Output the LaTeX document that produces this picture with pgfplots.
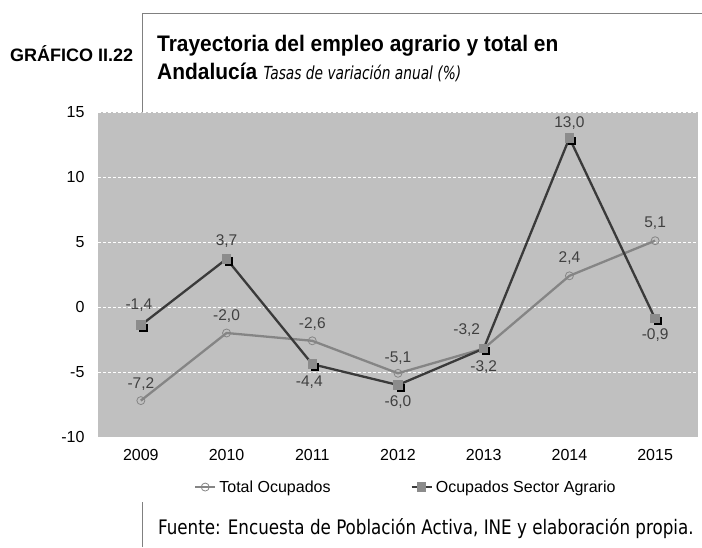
\documentclass[border=0pt]{standalone}
\usepackage{fontspec}
\setmainfont{Liberation Sans}
\newfontfamily\condfont{DejaVu Sans Condensed}
\usepackage{pgfplots}
\usepackage{pgfplotstable}
\pgfplotsset{compat=1.18}
\definecolor{bgGray}{HTML}{C0C0C0}
\definecolor{totGray}{HTML}{858585}
\definecolor{agrDark}{HTML}{3A3A3A}
\definecolor{labGray}{HTML}{404040}
\definecolor{frameGray}{HTML}{808080}
\definecolor{sqGray}{HTML}{8C8C8C}

\pgfplotstableread{
x y lab dy dx
0 -7.2 -7,2 17 0
1 -2.0 -2,0 17 0
2 -2.6 -2,6 17 0
3 -5.1 -5,1 15 0
4 -3.2 -3,2 19 -17
5 2.4 2,4 18 0
6 5.1 5,1 18 0
}\totaltable

\pgfplotstableread{
x y lab dy dx
0 -1.4 -1,4 20 -2
1 3.7 3,7 18 0
2 -4.4 -4,4 -18 -3
3 -6.0 -6,0 -17 0
4 -3.2 -3,2 -18 0
5 13.0 13,0 15 0
6 -0.9 -0,9 -16 0
}\agrtable

\pgfplotsset{
  mylabels/.style={
    point meta=explicit symbolic,
    nodes near coords,
    visualization depends on={\thisrow{dy} \as \labdy},
    visualization depends on={\thisrow{dx} \as \labdx},
    nodes near coords style={anchor=center, yshift=\labdy*1pt, xshift=\labdx*1pt,
      font=\fontsize{15.5}{17}\selectfont, text=labGray, inner sep=0pt},
  }
}

\begin{document}
\begin{tikzpicture}[x=1pt,y=1pt]
\useasboundingbox (0,0) rectangle (702,547);
% frame lines
\draw[frameGray, line width=0.9pt] (142,112) -- (142,534) -- (702,534);
\draw[frameGray, line width=0.9pt] (142,0) -- (142,45);
% titles
\node[anchor=base west, inner sep=0pt, font=\fontsize{18}{20}\selectfont\bfseries] at (10,485) {GRÁFICO II.22};
\node[anchor=base west, inner sep=0pt, font=\fontsize{22.5}{24}\selectfont\bfseries] at (157,495) {\scalebox{0.93}[1]{Trayectoria del empleo agrario y total en}};
\node[anchor=base west, inner sep=0pt, font=\fontsize{22.5}{24}\selectfont] at (157,467) {\scalebox{0.93}[1]{\textbf{Andalucía}} {\condfont\itshape\fontsize{18}{20}\selectfont\scalebox{0.85}[1]{Tasas de variación anual (\%)}}};
\node[anchor=base west, inner sep=0pt, font=\condfont\fontsize{20}{22}\selectfont] at (158,13) {\scalebox{0.93}[1]{Fuente: Encuesta de Población Activa, INE y elaboración propia.}};

\begin{axis}[
  at={(98pt,110pt)}, anchor=south west,
  width=600pt, height=325pt, scale only axis,
  xmin=-0.5, xmax=6.5, ymin=-10, ymax=15,
  xtick={0,1,2,3,4,5,6},
  xticklabels={2009,2010,2011,2012,2013,2014,2015},
  ytick={-10,-5,0,5,10,15},
  axis background/.style={fill=bgGray},
  axis line style={draw=none},
  major tick length=0pt,
  ymajorgrids,
  grid style={white, dash pattern=on 3pt off 2pt, line width=0.6pt},
  tick label style={font=\fontsize{16}{18}\selectfont},
  yticklabel style={xshift=-10pt},
  xticklabel style={yshift=-9pt},
  /pgf/number format/assume math mode=true,
  clip=false,
  legend columns=2,
  legend style={at={(0.513,-0.154)}, anchor=center, draw=none, fill=none,
    font=\fontsize{16}{18}\selectfont, inner sep=0pt,
    /tikz/every even column/.append style={column sep=78pt},
    /tikz/every odd column/.append style={column sep=1pt}},
  legend image code/.code={
    \draw[mark repeat=2,mark phase=2] plot coordinates {(0pt,0pt) (10pt,0pt) (20pt,0pt)};
  },
]
\addplot[totGray, line width=2.3pt, mark=o, mylabels,
  mark options={draw=totGray, line width=0.8pt, scale=2, solid}]
  table[x=x, y=y, meta=lab] {\totaltable};
\addlegendentry{Total Ocupados}
\addplot[black, only marks, mark=square*, forget plot,
  mark options={fill=black, draw=black, scale=1.8, xshift=1.3pt, yshift=-1.3pt}]
  table[x=x, y=y] {\agrtable};
\addplot[agrDark, line width=2.3pt, mark=square*, mylabels,
  mark options={fill=sqGray, draw=sqGray, scale=1.8, solid}]
  table[x=x, y=y, meta=lab] {\agrtable};
\addlegendentry{Ocupados Sector Agrario}
\end{axis}
\end{tikzpicture}
\end{document}
